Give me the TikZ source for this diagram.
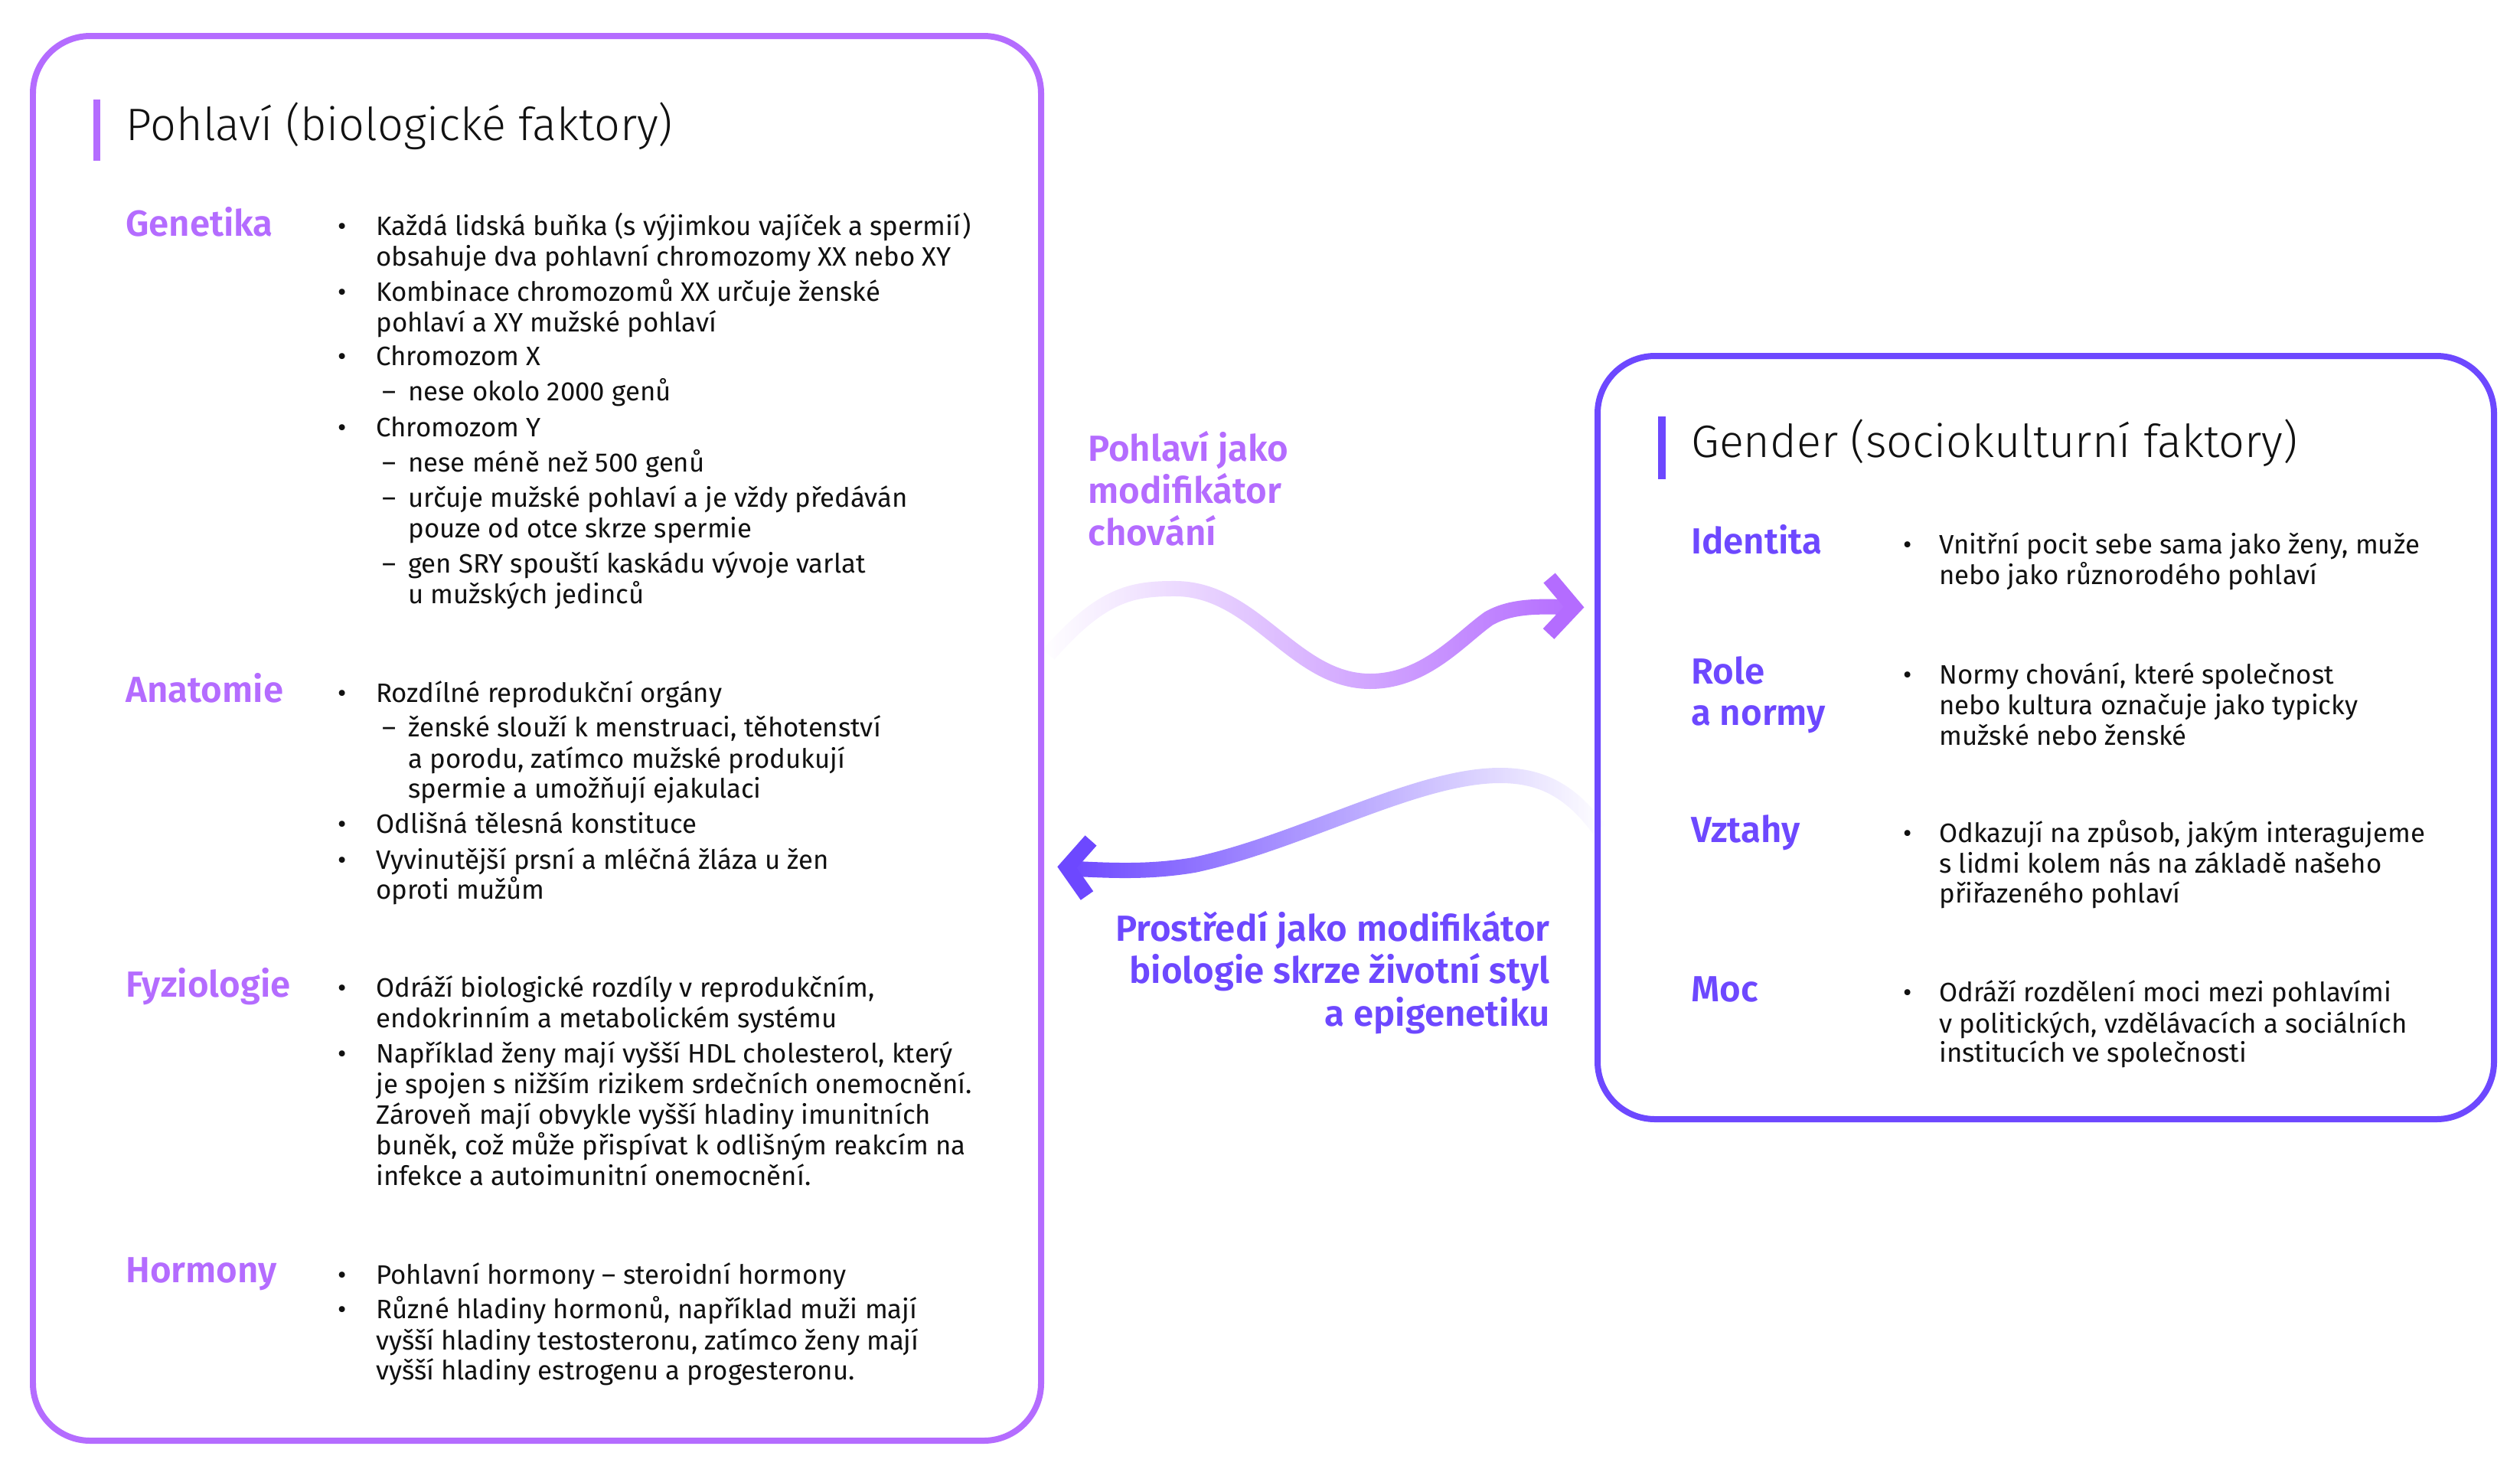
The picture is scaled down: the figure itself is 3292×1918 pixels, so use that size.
\documentclass[tikz,border=0pt]{standalone}
\usepackage{fontspec}
\setmainfont{Fira Sans}
\newfontfamily\lightf{Fira Sans Light}
\newfontfamily\semif{Fira Sans SemiBold}
\usetikzlibrary{fadings}
\definecolor{cL}{HTML}{B46CFF}
\definecolor{cR}{HTML}{6D48FF}
\definecolor{ink}{HTML}{111111}
\tikzfading[name=fadein, left color=transparent!100, right color=transparent!0]
\tikzfading[name=fadeout, left color=transparent!0, right color=transparent!100]
\begin{document}
\begin{tikzpicture}[x=0.02cm,y=-0.02cm,
  txt/.style={anchor=base west, inner sep=0pt, text=ink, font=\fontsize{19.8}{24}\selectfont},
  cat/.style={anchor=base west, inner sep=0pt, font=\semif\fontsize{27}{32}\selectfont},
  ttl/.style={anchor=base west, inner sep=0pt, text=ink, font=\lightf\fontsize{33.8}{40}\selectfont},
  mid/.style={inner sep=0pt, font=\semif\fontsize{27}{32}\selectfont},
  frame/.style={line width=0.16cm, rounded corners=1.5cm},
  wave/.style={line width=0.4cm},
  chev/.style={line width=0.4cm, miter limit=10}
]
\useasboundingbox (0,0) rectangle (3292,1918);

% boxes
\draw[frame, draw=cL] (43,47) rectangle (1360,1882);
\draw[frame, draw=cR] (2087,465) rectangle (3258,1462);
\fill[cL] (122,130) rectangle (131,210);
\fill[cR] (2166,544) rectangle (2176,626);

% left title
\node[ttl] (tL) at (164,183) {Pohlaví (biologické faktory)};

% Genetika
\node[cat, text=cL] (cGen) at (164,308) {Genetika};
\node[txt] (b1) at (441,307) {•};
\node[txt] (g1) at (491,307) {Každá lidská buňka (s výjimkou vajíček a spermií)};
\node[txt] (g2) at (491,347) {obsahuje dva pohlavní chromozomy XX nebo XY};
\node[txt] (b2) at (441,393) {•};
\node[txt] (g3) at (491,393) {Kombinace chromozomů XX určuje ženské};
\node[txt] (g4) at (491,433) {pohlaví a XY mužské pohlaví};
\node[txt] (b3) at (441,477) {•};
\node[txt] (g5) at (491,477) {Chromozom X};
\node[txt] (d1) at (499,523) {–};
\node[txt] (g6) at (533,523) {nese okolo 2000 genů};
\node[txt] (b4) at (441,570) {•};
\node[txt] (g7) at (491,570) {Chromozom Y};
\node[txt] (d2) at (499,616) {–};
\node[txt] (g8) at (533,616) {nese méně než 500 genů};
\node[txt] (d3) at (499,662) {–};
\node[txt] (g9) at (533,662) {určuje mužské pohlaví a je vždy předáván};
\node[txt] (g10) at (533,702) {pouze od otce skrze spermie};
\node[txt] (d4) at (499,748) {–};
\node[txt] (g11) at (533,748) {gen SRY spouští kaskádu vývoje varlat};
\node[txt] (g12) at (533,788) {u mužských jedinců};

% Anatomie
\node[cat, text=cL] (cAna) at (164,917) {Anatomie};
\node[txt] (b5) at (441,917) {•};
\node[txt] (a1) at (491,917) {Rozdílné reprodukční orgány};
\node[txt] (d5) at (499,962) {–};
\node[txt] (a2) at (533,962) {ženské slouží k menstruaci, těhotenství};
\node[txt] (a3) at (533,1003) {a porodu, zatímco mužské produkují};
\node[txt] (a4) at (533,1042) {spermie a umožňují ejakulaci};
\node[txt] (b6) at (441,1088) {•};
\node[txt] (a5) at (491,1088) {Odlišná tělesná konstituce};
\node[txt] (b7) at (441,1135) {•};
\node[txt] (a6) at (491,1135) {Vyvinutější prsní a mléčná žláza u žen};
\node[txt] (a7) at (491,1174) {oproti mužům};

% Fyziologie
\node[cat, text=cL] (cFyz) at (164,1302) {Fyziologie};
\node[txt] (b8) at (441,1302) {•};
\node[txt] (f1) at (491,1302) {Odráží biologické rozdíly v reprodukčním,};
\node[txt] (f2) at (491,1342) {endokrinním a metabolickém systému};
\node[txt] (b9) at (441,1388) {•};
\node[txt] (f3) at (491,1388) {Například ženy mají vyšší HDL cholesterol, který};
\node[txt] (f4) at (491,1428) {je spojen s nižším rizikem srdečních onemocnění.};
\node[txt] (f5) at (491,1468) {Zároveň mají obvykle vyšší hladiny imunitních};
\node[txt] (f6) at (491,1508) {buněk, což může přispívat k odlišným reakcím na};
\node[txt] (f7) at (491,1548) {infekce a autoimunitní onemocnění.};

% Hormony
\node[cat, text=cL] (cHor) at (164,1675) {Hormony};
\node[txt] (b10) at (441,1677) {•};
\node[txt] (h1) at (491,1677) {Pohlavní hormony – steroidní hormony};
\node[txt] (b11) at (441,1722) {•};
\node[txt] (h2) at (491,1722) {Různé hladiny hormonů, například muži mají};
\node[txt] (h3) at (491,1763) {vyšší hladiny testosteronu, zatímco ženy mají};
\node[txt] (h4) at (491,1802) {vyšší hladiny estrogenu a progesteronu.};

% right title
\node[ttl] (tR) at (2209,597) {Gender (sociokulturní faktory)};

\node[cat, text=cR] (cId) at (2209,723) {Identita};
\node[txt] (rb1) at (2486,723) {•};
\node[txt] (r1) at (2533,723) {Vnitřní pocit sebe sama jako ženy, muže};
\node[txt] (r2) at (2533,763) {nebo jako různorodého pohlaví};

\node[cat, text=cR] (cRo1) at (2209,893) {Role};
\node[cat, text=cR] (cRo2) at (2209,947) {a normy};
\node[txt] (rb2) at (2486,893) {•};
\node[txt] (r3) at (2533,893) {Normy chování, které společnost};
\node[txt] (r4) at (2533,933) {nebo kultura označuje jako typicky};
\node[txt] (r5) at (2533,973) {mužské nebo ženské};

\node[cat, text=cR] (cVz) at (2209,1100) {Vztahy};
\node[txt] (rb3) at (2486,1100) {•};
\node[txt] (r6) at (2533,1100) {Odkazují na způsob, jakým interagujeme};
\node[txt] (r7) at (2533,1140) {s lidmi kolem nás na základě našeho};
\node[txt] (r8) at (2533,1179) {přiřazeného pohlaví};

\node[cat, text=cR] (cMoc) at (2209,1308) {Moc};
\node[txt] (rb4) at (2486,1308) {•};
\node[txt] (r9) at (2533,1308) {Odráží rozdělení moci mezi pohlavími};
\node[txt] (r10) at (2533,1349) {v politických, vzdělávacích a sociálních};
\node[txt] (r11) at (2533,1387) {institucích ve společnosti};

% middle labels
\node[mid, text=cL, anchor=base west] (m1) at (1421,602) {Pohlaví jako};
\node[mid, text=cL, anchor=base west] (m2) at (1421,657) {modifikátor};
\node[mid, text=cL, anchor=base west] (m3) at (1421,712) {chování};
\node[mid, text=cR, anchor=base east] (n1) at (2025,1229) {Prostředí jako modifikátor};
\node[mid, text=cR, anchor=base east] (n2) at (2025,1284) {biologie skrze životní styl};
\node[mid, text=cR, anchor=base east] (n3) at (2025,1340) {a epigenetiku};

% top wave arrow
\coordinate (w1s) at (1370,855);
\coordinate (w1p) at (1535,769);
\coordinate (w1t) at (1790,890);
\coordinate (w1k) at (1945,808);
\coordinate (w1e) at (2050,793);
\coordinate (w1tip) at (2056,793);
\coordinate (w1ba) at (2024,755);
\coordinate (w1bb) at (2023,828);
\draw[wave, cL, path fading=fadein]
  (w1s) .. controls (1440,775) and (1480,769) .. (w1p)
  .. controls (1640,769) and (1690,890) .. (w1t)
  .. controls (1862,890) and (1908,834) .. (w1k)
  .. controls (1978,789) and (2020,793) .. (w1e);
\draw[chev, cL] (w1ba) -- (w1tip) -- (w1bb);

% bottom wave arrow
\coordinate (w2s) at (2089,1083);
\coordinate (w2p) at (1960,1013);
\coordinate (w2m) at (1560,1130);
\coordinate (w2e) at (1405,1135);
\coordinate (w2tip) at (1394,1133);
\coordinate (w2ba) at (1425,1098);
\coordinate (w2bb) at (1420,1170);
\draw[wave, cR, path fading=fadeout]
  (w2s) .. controls (2050,1030) and (2010,1013) .. (w2p)
  .. controls (1850,1013) and (1700,1100) .. (w2m)
  .. controls (1500,1140) and (1450,1137) .. (w2e);
\draw[chev, cR] (w2ba) -- (w2tip) -- (w2bb);
\end{tikzpicture}
\end{document}
